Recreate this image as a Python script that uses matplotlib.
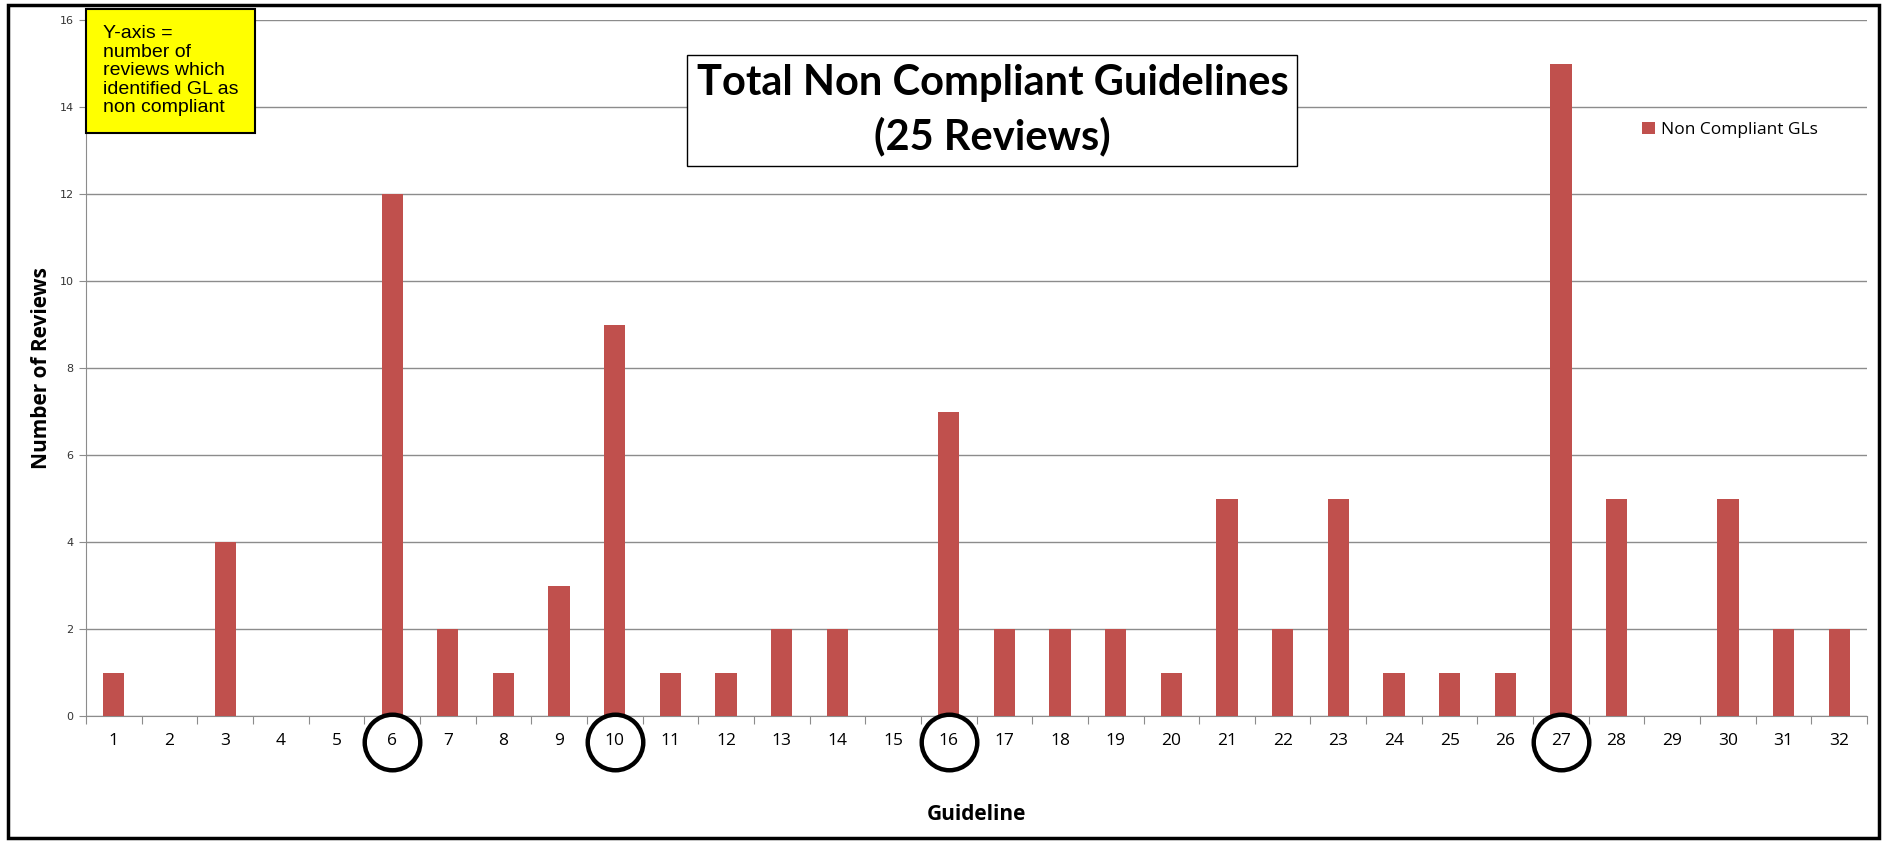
import matplotlib.pyplot as plt
import matplotlib.transforms as mtransforms
from matplotlib.patches import Rectangle

guidelines = list(range(1, 33))
non_compliant = [1, 0, 4, 0, 0, 12, 2, 1, 3, 9, 1, 1, 2, 2, 0, 7,
                 2, 2, 2, 1, 5, 2, 5, 1, 1, 1, 15, 5, 0, 5, 2, 2]
circled = [6, 10, 16, 27]
y_ticks = list(range(0, 17, 2))

bar_color = '#C0504D'
grid_color = '#8C8C8C'

fig = plt.figure(figsize=(18.85, 8.41), dpi=100)
ax = fig.add_axes([0.0456, 0.1486, 0.9449, 0.8276])

ax.bar(guidelines, non_compliant, width=0.38, color=bar_color, label='Non Compliant GLs', zorder=3)

ax.set_xlim(0.5, 32.5)
ax.set_ylim(0, 16)
ax.set_yticks(y_ticks)
ax.yaxis.grid(True, color=grid_color, linewidth=1, zorder=0)
ax.tick_params(axis='y', length=5, color=grid_color, labelsize=8, labelcolor='#333333', pad=4)

# category boundaries carry the tick marks, labels sit in between
ax.set_xticks([g + 0.5 for g in [0] + guidelines])
ax.set_xticklabels([])
ax.tick_params(axis='x', which='major', length=6, color=grid_color, direction='out')
ax.set_xticks(guidelines, minor=True)
ax.set_xticklabels([str(g) for g in guidelines], minor=True, fontsize=12.5, fontfamily='Open Sans')
ax.tick_params(axis='x', which='minor', length=0, pad=12)

for side in ['top', 'right']:
    ax.spines[side].set_visible(False)
ax.spines['left'].set_color(grid_color)
ax.spines['bottom'].set_color(grid_color)

ax.set_ylabel('Number of Reviews', fontsize=15, fontweight='bold', fontfamily='Open Sans', labelpad=5)
ax.set_xlabel('Guideline', fontsize=15, fontweight='bold', fontfamily='Open Sans', labelpad=40)

# circles round the highlighted guideline numbers
trans = mtransforms.blended_transform_factory(ax.transData, ax.transAxes)
ax.plot(circled, [-0.037] * len(circled), linestyle='none', marker='o', markersize=40,
        markerfacecolor='none', markeredgecolor='black', markeredgewidth=3.2,
        transform=trans, clip_on=False, zorder=5)

fig.legend(loc='center left', bbox_to_anchor=(0.863, 0.845), frameon=False,
           prop={'family': 'Open Sans', 'size': 12.5}, handlelength=0.7, handleheight=0.7, handletextpad=0.4)

fig.text(0.5265, 0.869, 'Total Non Compliant Guidelines\n(25 Reviews)', ha='center', va='center',
         fontsize=30, fontweight='bold', fontfamily='Lato', linespacing=1.45,
         bbox=dict(boxstyle='square,pad=0.22', facecolor='white', edgecolor='black', linewidth=1))

fig.text(0.0545, 0.97, 'Y-axis =\nnumber of\nreviews which\nidentified GL as\nnon compliant', ha='left', va='top',
         fontsize=14, fontfamily='Liberation Sans', linespacing=1.12,
         bbox=dict(boxstyle='square,pad=0.85', facecolor='#FFFF00', edgecolor='black', linewidth=1.5))

fig.patches.append(Rectangle((0.004, 0.003), 0.993, 0.991, transform=fig.transFigure,
                             fill=False, edgecolor='black', linewidth=2.5))

fig.savefig('out.png', dpi=100)
